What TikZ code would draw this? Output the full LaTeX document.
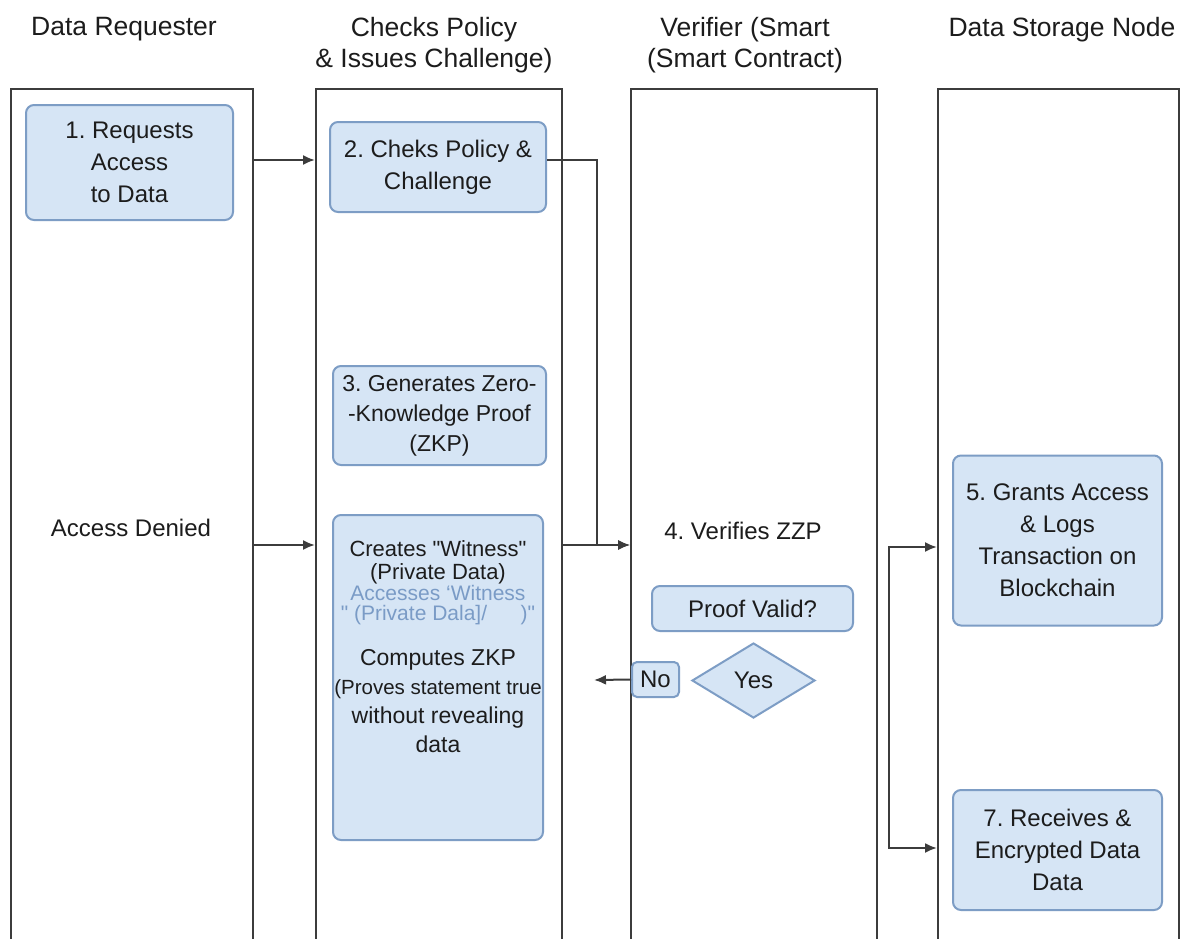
\documentclass[tikz,border=0pt]{standalone}
\usepackage{fontspec}
\setmainfont{Liberation Sans}[Ligatures=TeXOff]
\usetikzlibrary{shapes.geometric,arrows.meta}
\definecolor{boxfill}{HTML}{D6E5F5}
\definecolor{boxline}{HTML}{7D9DC5}
\definecolor{laneline}{HTML}{3C3C3C}
\definecolor{inktext}{HTML}{1C1C1C}
\definecolor{fadetext}{HTML}{7A9BC6}
\frenchspacing
\begin{document}
\begin{tikzpicture}[x=1pt, y=-1pt, >={Latex[length=12pt,width=10pt]}, font=\fontsize{24}{32}\selectfont, text=inktext,
    lane/.style={draw=laneline, line width=2pt, minimum height=900pt, anchor=north west, inner sep=0pt},
    head/.style={align=center, font=\fontsize{26.5}{31}\selectfont, anchor=north},
    stepbox/.style={draw=boxline, fill=boxfill, line width=2pt, rounded corners=8pt, align=center, inner sep=2pt},
    wline/.style={align=center, inner sep=0pt},
    flow/.style={->, draw=laneline, line width=2pt}]
  \fill[white] (0,0) rectangle (1187,938);
  \useasboundingbox (0,0) rectangle (1187,938);
  % swim lanes
  \foreach \nm/\xl/\lw in {req/10/242, chk/315/246, ver/630/246, sto/937/241}
    {\node[lane, minimum width=\lw pt] (lane\nm) at (\xl,88) {};}
  \node[head] (hreq) at (124,14) {Data Requester};
  \node[head] (hchk) at (434,14) {Checks Policy\\\& Issues Challenge)};
  \node[head] (hver) at (745,14) {Verifier (Smart\\(Smart Contract)};
  \node[head] (hsto) at (1062,14) {Data Storage Node};
  % steps
  \node[stepbox, minimum width=207pt, minimum height=115pt] (req) at (129.5,162.5) {1. Requests\\Access\\to Data};
  \node[stepbox, minimum width=216pt, minimum height=90pt] (chk) at (438,167) {2. Cheks Policy \&\\Challenge};
  \node[stepbox, minimum width=213pt, minimum height=99pt, font=\fontsize{23}{30}\selectfont] (zkp) at (439.5,415.5) {3. Generates Zero-\\-Knowledge Proof\\(ZKP)};
  \node[stepbox, minimum width=210pt, minimum height=325pt] (wit) at (438,677.5) {};
  \node[wline, font=\fontsize{22}{23}\selectfont] (wita) at (438,562) {Creates "Witness"\\(Private Data)};
  \node[wline, font=\fontsize{21}{20}\selectfont, text=fadetext] (witb) at (438,605) {Accesses ‘Witness\\" (Private Dala]/\hspace{1.6em})"};
  \node[wline, font=\fontsize{23}{29}\selectfont] (witc) at (438,701) {Computes ZKP\\{\fontsize{20.5}{29}\selectfont(Proves statement true}\\without revealing\\data};
  \node (deny) at (131,528) {Access Denied};
  \node (vzkp) at (743,531) {4. Verifies ZZP};
  \node[stepbox, minimum width=201pt, minimum height=45pt] (valid) at (752.5,608.5) {Proof Valid?};
  \node[stepbox, diamond, sharp corners, aspect=1.64, minimum width=123pt, minimum height=75pt, inner sep=0pt] (yes) at (753.5,680.5) {Yes};
  \node[stepbox, rounded corners=5pt, minimum width=47pt, minimum height=35pt, inner sep=0pt] (no) at (655.5,679.5) {No};
  \node[stepbox, minimum width=209pt, minimum height=170pt] (grant) at (1057.5,540.5) {5. Grants Access\\\& Logs\\Transaction on\\Blockchain};
  \node[stepbox, minimum width=209pt, minimum height=120pt] (recv) at (1057.5,850) {7. Receives \&\\Encrypted Data\\Data};
  % connectors
  \coordinate (vin) at (630,545);
  \coordinate (back) at (594,680);
  \coordinate (gtop) at (889,547);
  \coordinate (gbot) at (889,848);
  \draw[flow] (lanereq.east |- 0,160) -- (lanechk.west |- 0,160);
  \draw[flow] (chk.east |- 0,160) -| (597,545) -- (vin);
  \draw[flow] (lanechk.east |- vin) -- (vin);
  \draw[flow] (lanereq.east |- vin) -- (lanechk.west |- vin);
  \draw[flow] (no.west) -- (back);
  \draw[flow] (gbot) |- (lanesto.west |- gtop);
  \draw[flow] (gtop) |- (lanesto.west |- gbot);
\end{tikzpicture}
\end{document}
